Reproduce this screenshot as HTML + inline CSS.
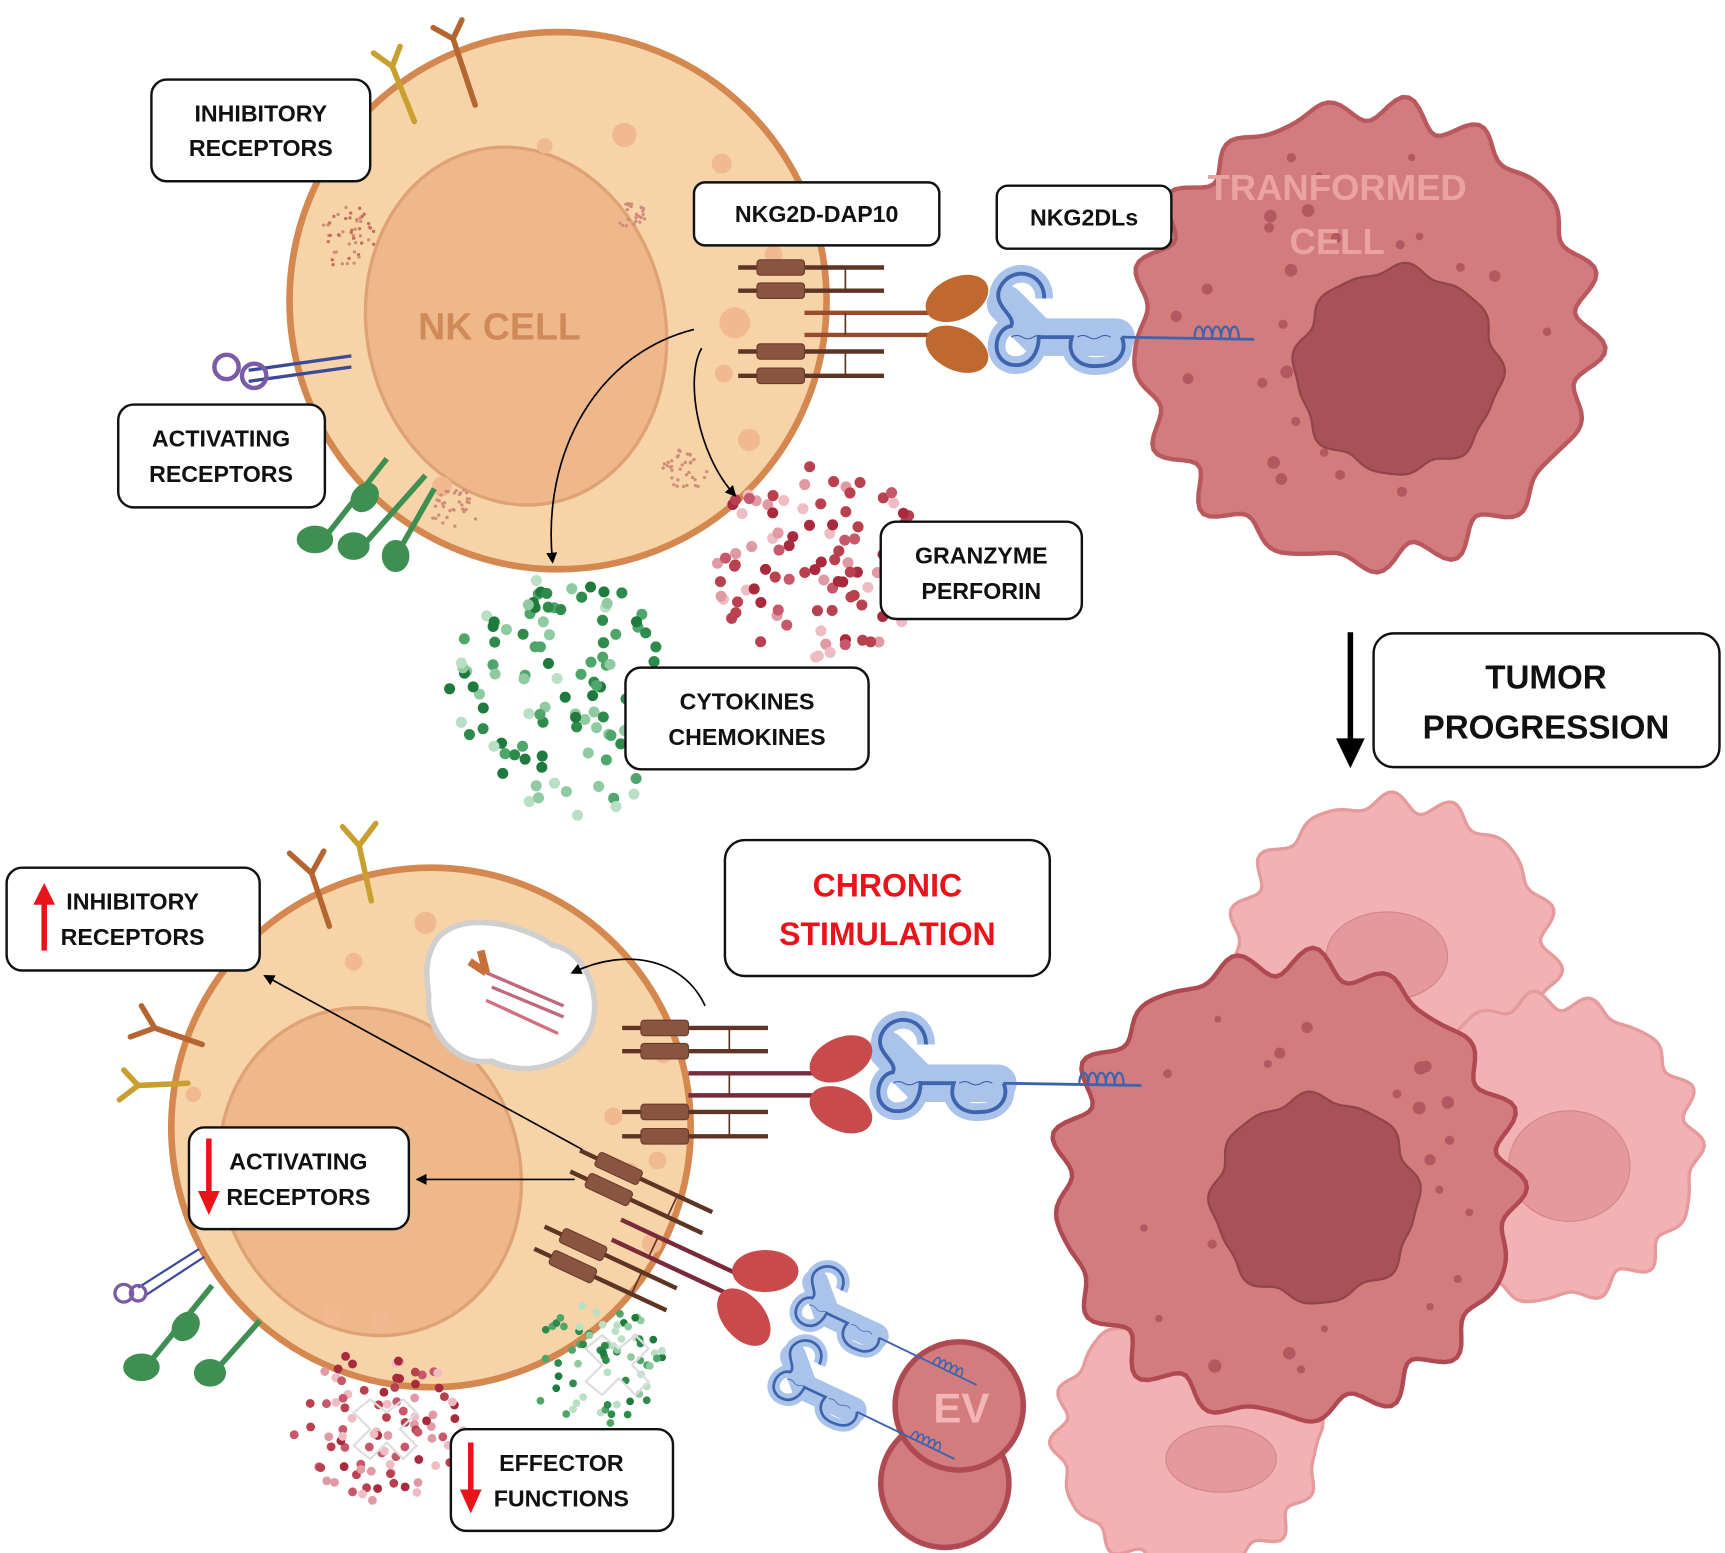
<!DOCTYPE html>
<html><head><meta charset="utf-8"><style>
html,body{margin:0;padding:0;background:#fff;}
svg{display:block;}
text{font-family:"Liberation Sans",sans-serif;font-weight:bold;}
</style></head><body>
<svg id="s" width="1725" height="1553" viewBox="0 0 1561 1405" preserveAspectRatio="none" xmlns="http://www.w3.org/2000/svg">
<defs>
<marker id="ah" markerWidth="10" markerHeight="10" refX="8" refY="5" orient="auto" markerUnits="userSpaceOnUse"><path d="M0,0 L10,5 L0,10 z" fill="#000"/></marker>
</defs>

<!-- TOP NK CELL -->
<circle cx="505" cy="272" r="243" fill="#f7d3a8" stroke="#d4874e" stroke-width="6"/>
<ellipse cx="467" cy="295" rx="135" ry="163" fill="#eeb88b" stroke="#dfa274" stroke-width="3" transform="rotate(-12 467 295)"/>
<text x="452" y="307" font-size="34" fill="#d08a5a" text-anchor="middle">NK CELL</text>
<g fill="#f0b98f">
<circle cx="565" cy="122" r="11"/><circle cx="493" cy="132" r="7"/><circle cx="653" cy="148" r="9"/><circle cx="665" cy="292" r="14"/><circle cx="655" cy="338" r="8"/><circle cx="678" cy="398" r="10"/><circle cx="400" cy="440" r="9"/><circle cx="700" cy="230" r="8"/>
</g>
<g id="topdots"></g>

<g fill="none" stroke-width="5" stroke-linecap="round">
<path d="M375,110 L355,60 M355,60 L338,48 M355,60 L362,42" stroke="#c9a030"/>
<path d="M430,95 L410,35 M410,35 L392,25 M410,35 L418,18" stroke="#b5652f"/>
</g>
<g fill="none" stroke="#7b5aa6" stroke-width="4">
<path d="M225,335 L318,322 M225,345 L318,332" stroke="#3c4a9a" stroke-width="3"/>
<circle cx="205" cy="332" r="11"/><circle cx="230" cy="340" r="11"/>
</g>
<g stroke="#3f8f52" stroke-width="5" fill="#3f8f52">
<line x1="350" y1="415" x2="295" y2="485"/><ellipse cx="285" cy="488" rx="14" ry="10"/><ellipse cx="330" cy="450" rx="12" ry="9" transform="rotate(-50 330 450)"/>
<line x1="385" y1="430" x2="330" y2="492"/><ellipse cx="320" cy="494" rx="12" ry="10"/>
<line x1="393" y1="442" x2="360" y2="500"/><ellipse cx="358" cy="503" rx="10" ry="12"/>
</g>

<path d="M628,298 C540,320 490,410 500,508" fill="none" stroke="#000" stroke-width="1.5" marker-end="url(#ah)"/>
<path d="M635,315 C620,340 630,410 665,448" fill="none" stroke="#000" stroke-width="1.5" marker-end="url(#ah)"/>

<g id="cx1" transform="translate(668,230)"></g>

<!-- TRANSFORMED CELL -->
<path id="tcell" fill="#d27c7e" stroke="#b9595e" stroke-width="4"/>
<path id="tnuc" fill="#a85157" stroke="#93434b" stroke-width="2"/>
<g id="tdots" fill="#b35860"></g>
<text x="1210" y="181" font-size="33" fill="#eaa2a2" text-anchor="middle">TRANFORMED</text>
<text x="1210" y="230" font-size="33" fill="#eaa2a2" text-anchor="middle">CELL</text>

<!-- Bottom tumor cells -->
<path id="p1" fill="#f2b1b3" stroke="#e59a9c" stroke-width="3"/>
<path id="p2" fill="#f2b1b3" stroke="#e59a9c" stroke-width="3"/>
<path id="p3" fill="#f2b1b3" stroke="#e59a9c" stroke-width="3"/>
<ellipse cx="1255" cy="865" rx="55" ry="40" fill="#e49a9d" stroke="#d48487"/>
<ellipse cx="1420" cy="1055" rx="55" ry="50" fill="#e49a9d" stroke="#d48487"/>
<ellipse cx="1105" cy="1320" rx="50" ry="30" fill="#e49a9d" stroke="#d48487"/>
<path id="bcell" fill="#d27c7e" stroke="#b04a52" stroke-width="4"/>
<path id="bnuc" fill="#a85157" stroke="#93434b" stroke-width="2"/>
<g id="bdots" fill="#b35860"></g>
<g id="lig1"></g>

<!-- EV -->
<circle cx="855" cy="1342" r="58" fill="#d27c7e" stroke="#b04a52" stroke-width="5"/>
<circle cx="868" cy="1272" r="58" fill="#d27c7e" stroke="#b04a52" stroke-width="5"/>
<text x="870" y="1287" font-size="38" fill="#f3b5b5" text-anchor="middle">EV</text>
<g id="lig2"></g>

<!-- BOTTOM NK CELL -->
<circle cx="390" cy="1020" r="235" fill="#f7d3a8" stroke="#d4874e" stroke-width="6"/>
<ellipse cx="335" cy="1060" rx="135" ry="150" fill="#eeb88b" stroke="#dfa274" stroke-width="3" transform="rotate(-20 335 1060)"/>
<g fill="#f0b98f">
<circle cx="385" cy="835" r="10"/><circle cx="320" cy="870" r="8"/><circle cx="555" cy="1010" r="8"/><circle cx="595" cy="1050" r="8"/><circle cx="175" cy="990" r="7"/><circle cx="570" cy="1060" r="8"/><circle cx="300" cy="1190" r="9"/><circle cx="345" cy="1195" r="9"/><circle cx="590" cy="1125" r="9"/><circle cx="600" cy="955" r="7"/>
</g>
<path d="M395,850 C420,820 480,840 500,855 C530,860 545,900 535,930 C520,965 475,975 445,960 C410,965 385,930 388,900 C385,880 385,865 395,850 z" fill="#fff" stroke="#cfcfcf" stroke-width="5"/>
<g stroke-width="3">
<line x1="440" y1="880" x2="510" y2="910" stroke="#c0697a"/><line x1="445" y1="893" x2="510" y2="920" stroke="#c0697a"/><line x1="440" y1="905" x2="505" y2="935" stroke="#d07080"/>
<path d="M435,860 l5,20 M425,870 l15,10" stroke="#c8703a" stroke-width="7"/>
</g>
<g fill="none" stroke-width="5" stroke-linecap="round">
<path d="M298,838 L282,790 M282,790 L262,772 M282,790 L293,770" stroke="#b5652f"/>
<path d="M336,815 L325,765 M325,765 L310,748 M325,765 L340,745" stroke="#c9a030"/>
<path d="M183,945 L140,930 M140,930 L118,938 M140,930 L128,910" stroke="#b5652f"/>
<path d="M170,980 L125,982 M125,982 L108,995 M125,982 L112,968" stroke="#c9a030"/>
</g>
<g fill="none" stroke="#7b5aa6" stroke-width="3">
<path d="M125,1165 L180,1130 M130,1173 L185,1137" stroke="#3c4a9a" stroke-width="2"/>
<circle cx="112" cy="1170" r="8"/><circle cx="125" cy="1170" r="7"/>
</g>
<g stroke="#3f8f52" stroke-width="5" fill="#3f8f52">
<line x1="192" y1="1163" x2="135" y2="1233"/><ellipse cx="128" cy="1237" rx="14" ry="10"/><ellipse cx="168" cy="1200" rx="12" ry="9" transform="rotate(-50 168 1200)"/>
<line x1="235" y1="1195" x2="195" y2="1240"/><ellipse cx="190" cy="1242" rx="12" ry="10"/>
</g>
<g id="botdots"></g>
<g fill="none" stroke="#ddd" stroke-width="2">
<path d="M330,1268 l15,-12 l15,12 l15,-12 l12,12 l-15,15 l15,15 l-12,12 l-15,-15 l-15,15 l-15,-12 l15,-15 z" transform="translate(-10,10)"/>
<path d="M530,1220 l15,-12 l15,12 l15,-12 l12,12 l-15,15 l15,15 l-12,12 l-15,-15 l-15,15 l-15,-12 l15,-15 z"/>
</g>

<g id="cx2" transform="translate(563,918)"></g>
<g id="cx3" transform="translate(530,1030) rotate(25)"></g>

<path d="M638,910 C620,870 570,855 518,880" fill="none" stroke="#000" stroke-width="1.5" marker-end="url(#ah)"/>
<line x1="527" y1="1040" x2="240" y2="883" stroke="#000" stroke-width="1.5" marker-end="url(#ah)"/>
<line x1="520" y1="1067" x2="378" y2="1067" stroke="#000" stroke-width="1.5" marker-end="url(#ah)"/>

<line x1="1222" y1="572" x2="1222" y2="670" stroke="#000" stroke-width="5"/>
<path d="M1209,668 L1235,668 L1222,695 z" fill="#000"/>

<g fill="#fff" stroke="#111" stroke-width="2.2">
<rect x="137" y="72" width="198" height="92" rx="14"/>
<rect x="628" y="165" width="222" height="57" rx="10"/>
<rect x="902" y="168" width="158" height="57" rx="10"/>
<rect x="107" y="366" width="187" height="93" rx="14"/>
<rect x="797" y="472" width="182" height="88" rx="14"/>
<rect x="566" y="604" width="220" height="92" rx="14"/>
<rect x="1243" y="573" width="313" height="121" rx="18"/>
<rect x="656" y="760" width="294" height="123" rx="18"/>
<rect x="6" y="785" width="229" height="93" rx="14"/>
<rect x="171" y="1020" width="199" height="92" rx="14"/>
<rect x="408" y="1293" width="201" height="92" rx="14"/>
</g>
<g font-size="21" fill="#111" text-anchor="middle">
<text x="236" y="110">INHIBITORY</text><text x="236" y="141">RECEPTORS</text>
<text x="739" y="201">NKG2D-DAP10</text>
<text x="981" y="204">NKG2DLs</text>
<text x="200" y="404">ACTIVATING</text><text x="200" y="436">RECEPTORS</text>
<text x="888" y="510">GRANZYME</text><text x="888" y="542">PERFORIN</text>
<text x="676" y="642">CYTOKINES</text><text x="676" y="674">CHEMOKINES</text>
<text x="120" y="823">INHIBITORY</text><text x="120" y="855">RECEPTORS</text>
<text x="270" y="1058">ACTIVATING</text><text x="270" y="1090">RECEPTORS</text>
<text x="508" y="1331">EFFECTOR</text><text x="508" y="1363">FUNCTIONS</text>
</g>
<g font-size="30" fill="#111" text-anchor="middle"><text x="1399" y="623">TUMOR</text><text x="1399" y="668">PROGRESSION</text></g>
<g font-size="29" fill="#e8141a" text-anchor="middle"><text x="803" y="811">CHRONIC</text><text x="803" y="855">STIMULATION</text></g>
<g fill="#e8141a" stroke="#e8141a">
<line x1="40" y1="860" x2="40" y2="815" stroke-width="5"/><path d="M31,818 L49,818 L40,800 z"/>
<line x1="189" y1="1030" x2="189" y2="1080" stroke-width="5"/><path d="M180,1078 L198,1078 L189,1098 z"/>
<line x1="426" y1="1305" x2="426" y2="1350" stroke-width="5"/><path d="M417,1348 L435,1348 L426,1368 z"/>
</g>
</svg>
<script>
var NS="http://www.w3.org/2000/svg";
function el(p,t,a){var e=document.createElementNS(NS,t);for(var k in a)e.setAttribute(k,a[k]);p.appendChild(e);return e;}
var seed=7;function rnd(){seed=(seed*16807)%2147483647;return seed/2147483647;}
function blob(cx,cy,r,amp,n,ph){var d="";for(var i=0;i<=240;i++){var t=i/240*2*Math.PI;var rr=r*(1+amp*Math.sin(n*t+ph)+amp*0.5*Math.sin((n+5)*t+ph*2));var x=cx+rr*Math.cos(t),y=cy+rr*Math.sin(t);d+=(i?"L":"M")+x.toFixed(1)+","+y.toFixed(1);}return d+"z";}
document.getElementById("tcell").setAttribute("d",blob(1235,303,205,0.045,17,0.3));
document.getElementById("tnuc").setAttribute("d",blob(1265,335,92,0.04,8,1));
document.getElementById("bcell").setAttribute("d",blob(1165,1075,205,0.045,17,1.2));
document.getElementById("bnuc").setAttribute("d",blob(1190,1085,92,0.04,8,2));
document.getElementById("p1").setAttribute("d",blob(1260,870,145,0.045,15,0.5));
document.getElementById("p2").setAttribute("d",blob(1400,1040,135,0.045,15,1.5));
document.getElementById("p3").setAttribute("d",blob(1075,1300,118,0.045,14,2.5));
function sprinkle(g,cx,cy,r,n,col){for(var i=0;i<n;i++){var a=rnd()*6.283,q=Math.sqrt(rnd())*r;var x=cx+q*Math.cos(a),y=cy+q*Math.sin(a);if(Math.hypot(x-1265,y-335)<100&&cy<600)continue;if(Math.hypot(x-1190,y-1085)<100&&cy>600)continue;el(g,"circle",{cx:x,cy:y,r:3+rnd()*3,fill:col});}}
sprinkle(document.getElementById("tdots"),1232,300,175,30,"#b35860");
sprinkle(document.getElementById("bdots"),1165,1075,175,30,"#b35860");
function cloud(g,cx,cy,rx,ry,n,cols,r){for(var i=0;i<n;i++){var a=rnd()*6.283,q=Math.sqrt(rnd());el(g,"circle",{cx:cx+q*rx*Math.cos(a),cy:cy+q*ry*Math.sin(a),r:r,fill:cols[Math.floor(rnd()*cols.length)]});}}
var td=document.getElementById("topdots");
var reds=["#a82a3c","#c7576a","#e09aa4","#b8404f","#efbcc3"],greens=["#1f7a3e","#4fa66a","#8fcaa0","#2e8b4c","#b9dfc4"];
cloud(td,740,510,100,90,100,reds,5);
cloud(td,515,630,110,110,120,greens,5);
cloud(td,315,215,25,30,50,["#d28a7a","#c76a5a"],1.5);cloud(td,572,195,13,13,25,["#d28a7a"],1.5);cloud(td,620,425,20,20,35,["#d28a7a"],1.5);cloud(td,412,462,22,20,35,["#d28a7a"],1.5);
var bd=document.getElementById("botdots");
cloud(bd,340,1290,80,70,90,reds,4);
cloud(bd,540,1235,65,55,70,greens,3.5);
function complex(g,head,lc){
 var dk="#5e3424";
 [12,33,88,110].forEach(function(y){el(g,"line",{x1:0,y1:y,x2:132,y2:y,stroke:dk,"stroke-width":4});el(g,"rect",{x:17,y:y-7,width:43,height:14,rx:3,fill:"#8a5540",stroke:"#6b3b2a"});});
 [53,73].forEach(function(y){el(g,"line",{x1:60,y1:y,x2:177,y2:y,stroke:lc,"stroke-width":4});});
 [[12,33],[53,73],[88,110]].forEach(function(p){el(g,"line",{x1:97,y1:p[0],x2:97,y2:p[1],stroke:dk,"stroke-width":1.5});});
 el(g,"ellipse",{cx:198,cy:40,rx:30,ry:19,transform:"rotate(-25 198 40)",fill:head});
 el(g,"ellipse",{cx:198,cy:86,rx:30,ry:19,transform:"rotate(25 198 86)",fill:head});
}
complex(document.getElementById("cx1"),"#c0692f","#9a4a2a");
complex(document.getElementById("cx2"),"#c94a4a","#7a2a3a");
complex(document.getElementById("cx3"),"#c94a4a","#7a2a3a");
function ligand(g,x,y,s,rot,len){
 var gg=el(g,"g",{transform:"translate("+x+","+y+") rotate("+rot+") scale("+s+")"});
 var d="M30,-15 C30,-40 0,-45 -10,-25 C-18,-8 5,0 0,10 C-15,12 -20,40 0,45 C20,48 25,30 25,20 L55,20 C50,35 60,48 80,46 C100,45 105,30 100,20";
 el(gg,"path",{d:"M-5,-10 L25,20 L95,20",fill:"none",stroke:"#a9c3ea","stroke-width":34,"stroke-linejoin":"round","stroke-linecap":"round"});
 el(gg,"path",{d:d,fill:"none",stroke:"#a9c3ea","stroke-width":16,"stroke-linejoin":"round"});
 el(gg,"path",{d:d,fill:"none",stroke:"#3e64ae","stroke-width":3.5});
 el(gg,"path",{d:"M0,20 q5,-3 10,0 t10,0 t10,0 M60,20 q5,-3 10,0 t10,0 t10,0",fill:"none",stroke:"#3e64ae","stroke-width":1});
 el(gg,"line",{x1:100,y1:20,x2:100+len,y2:22,stroke:"#3e64ae","stroke-width":2.5});
 var h="M"+(100+len*0.55)+",21";for(var i=0;i<5;i++){h+=" c0,-14 8,-14 8,0";}
 el(gg,"path",{d:h,fill:"none",stroke:"#3e64ae","stroke-width":2});
}
ligand(document.getElementById("lig1"),915,285,1,0,120);
ligand(document.getElementById("lig1"),808,960,1,0,125);
var l2=document.getElementById("lig2");
ligand(l2,738,1168,0.7,25,140);
ligand(l2,718,1235,0.7,25,140);
</script>
</body></html>
